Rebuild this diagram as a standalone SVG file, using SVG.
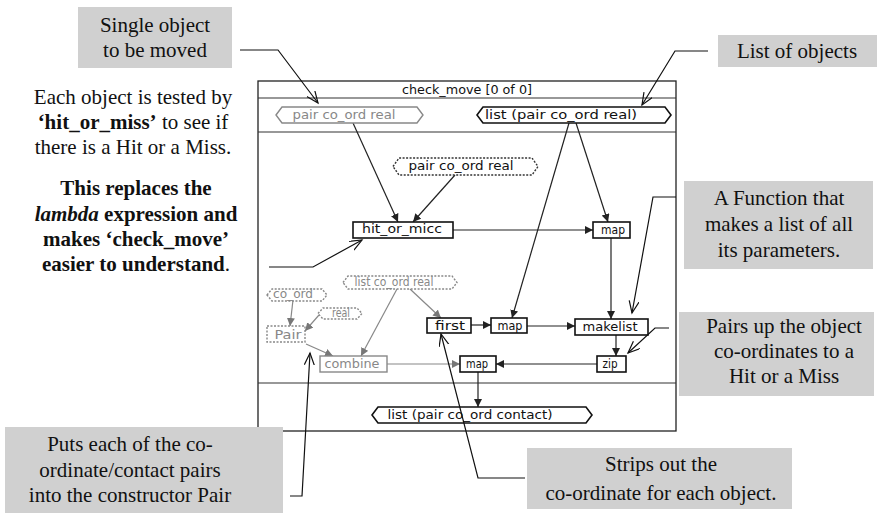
<svg xmlns="http://www.w3.org/2000/svg" width="884" height="513" viewBox="0 0 884 513">
<style>
.note{fill:#d0d0d0}
.nt{font-family:"Liberation Serif","Times New Roman",serif;font-size:21px;fill:#111;text-anchor:middle}
.b{font-weight:bold}
.frame{fill:#fff;stroke:#222;stroke-width:1.3}
.sep{stroke:#333;stroke-width:1.2}
.nb{fill:#fff;stroke:#111;stroke-width:1.6}
.ng{fill:#fff;stroke:#888;stroke-width:1.4}
.nd{fill:#fff;stroke:#333;stroke-width:1.4;stroke-dasharray:2 1.5}
.ngd{fill:#fff;stroke:#888;stroke-width:1.4;stroke-dasharray:2 1.5}
.lb{font-family:"DejaVu Sans",sans-serif;font-size:12.5px;fill:#111;text-anchor:middle}
.lg{font-family:"DejaVu Sans",sans-serif;font-size:12.5px;fill:#888;text-anchor:middle}
.c{stroke:#222;stroke-width:1.2;fill:none}
.cg{stroke:#888;stroke-width:1.2;fill:none}
.co{stroke:#111;stroke-width:1.2;fill:none}
</style>
<defs>
<marker id="arr" markerUnits="userSpaceOnUse" markerWidth="9" markerHeight="9" refX="8" refY="4" orient="auto"><path d="M0,0 L8,4 L0,8 z" fill="#222"/></marker>
<marker id="arrg" markerUnits="userSpaceOnUse" markerWidth="9" markerHeight="9" refX="8" refY="4" orient="auto"><path d="M0,0 L8,4 L0,8 z" fill="#777"/></marker>
<marker id="open" markerUnits="userSpaceOnUse" markerWidth="14" markerHeight="12" refX="12" refY="5" orient="auto"><path d="M0,0 L12,5 L0,10" fill="none" stroke="#111" stroke-width="1.2"/></marker>
</defs>

<g id="frame">
<rect class="frame" x="258" y="81" width="418" height="350"/>
<line class="sep" x1="258" y1="98" x2="676" y2="98"/>
<line class="sep" x1="258" y1="132" x2="676" y2="132"/>
<line class="sep" x1="258" y1="383" x2="676" y2="383"/>
<text class="lb" x="467" y="94" textLength="130" lengthAdjust="spacingAndGlyphs">check_move [0 of 0]</text>
</g>

<g id="connectors">
<line class="c" x1="353" y1="123" x2="398" y2="222" marker-end="url(#arr)"/>
<line class="c" x1="455" y1="175" x2="413" y2="222" marker-end="url(#arr)"/>
<line class="c" x1="569" y1="123" x2="512" y2="318" marker-end="url(#arr)"/>
<line class="c" x1="576" y1="123" x2="608" y2="222" marker-end="url(#arr)"/>
<line class="c" x1="453" y1="230" x2="593" y2="230" marker-end="url(#arr)"/>
<line class="c" x1="611" y1="238" x2="611" y2="319" marker-end="url(#arr)"/>
<line class="cg" x1="293" y1="300" x2="290" y2="326" marker-end="url(#arrg)"/>
<line class="cg" x1="319" y1="315" x2="305" y2="331" marker-end="url(#arrg)"/>
<line class="cg" x1="306" y1="344" x2="333" y2="356" marker-end="url(#arrg)"/>
<line class="cg" x1="397" y1="289" x2="361" y2="356" marker-end="url(#arrg)"/>
<line class="cg" x1="410" y1="289" x2="441" y2="318" marker-end="url(#arrg)"/>
<line class="c" x1="471" y1="325" x2="491" y2="325" marker-end="url(#arr)"/>
<line class="c" x1="527" y1="326" x2="575" y2="326" marker-end="url(#arr)"/>
<line class="c" x1="616" y1="335" x2="616" y2="356" marker-end="url(#arr)"/>
<line class="c" x1="597" y1="364" x2="496" y2="364" marker-end="url(#arr)"/>
<line class="cg" x1="387" y1="364" x2="460" y2="364" marker-end="url(#arrg)"/>
<line class="c" x1="478" y1="372" x2="478" y2="407" marker-end="url(#arr)"/>
</g>

<g id="in-pair">
<path class="ng" d="M276,115 L282,107 L417,107 L423,115 L417,123 L282,123 z"/>
<text class="lg" x="344" y="118.5" textLength="103" lengthAdjust="spacingAndGlyphs">pair co_ord real</text>
</g>
<g id="in-list">
<path class="nb" stroke-width="2" d="M477,115 L483,107 L665,107 L671,115 L665,123 L483,123 z"/>
<text class="lb" x="561" y="118.5" textLength="152" lengthAdjust="spacingAndGlyphs">list (pair co_ord real)</text>
</g>
<g id="pair-dotted">
<path class="nd" d="M393,166.5 L399,158 L532,158 L538,166.5 L532,175 L399,175 z"/>
<text class="lb" x="461" y="170" textLength="105" lengthAdjust="spacingAndGlyphs">pair co_ord real</text>
</g>
<g id="hit">
<rect class="nb" stroke-width="2" x="353" y="222" width="100" height="16"/>
<text class="lb" x="402" y="233" textLength="80" lengthAdjust="spacingAndGlyphs">hit_or_micc</text>
</g>
<g id="map-top">
<rect class="nb" x="593" y="222" width="37" height="16"/>
<text class="lb" font-size="12" x="613" y="233.5" textLength="24" lengthAdjust="spacingAndGlyphs">map</text>
</g>
<g id="list-coord">
<path class="ngd" d="M343,282.5 L348,276 L452,276 L457,282.5 L452,289 L348,289 z"/>
<text class="lg" font-size="10.5" x="394" y="285.5" textLength="79" lengthAdjust="spacingAndGlyphs">list co_ord real</text>
</g>
<g id="coord">
<path class="ngd" d="M267,295 L272,289 L322,289 L327,295 L322,301 L272,301 z"/>
<text class="lg" font-size="10.5" x="293" y="297.5" textLength="40" lengthAdjust="spacingAndGlyphs">co_ord</text>
</g>
<g id="real">
<path class="ngd" d="M318,313.5 L323,308 L357,308 L362,313.5 L357,319 L323,319 z"/>
<text class="lg" font-size="10.5" x="341" y="317" textLength="18" lengthAdjust="spacingAndGlyphs">real</text>
</g>
<g id="pair">
<rect class="ngd" x="267" y="326" width="38" height="16"/>
<text class="lg" x="288" y="338.5" textLength="27" lengthAdjust="spacingAndGlyphs">Pair</text>
</g>
<g id="first">
<rect class="nb" x="427" y="318" width="44" height="15"/>
<text class="lb" x="450" y="330" textLength="30" lengthAdjust="spacingAndGlyphs">first</text>
</g>
<g id="map-mid">
<rect class="nb" x="491" y="318" width="36" height="15"/>
<text class="lb" x="510" y="329.5" textLength="25" lengthAdjust="spacingAndGlyphs">map</text>
</g>
<g id="makelist">
<rect class="nb" stroke-width="2" x="575" y="319" width="73" height="16"/>
<text class="lb" x="610" y="331" textLength="55" lengthAdjust="spacingAndGlyphs">makelist</text>
</g>
<g id="combine">
<rect class="ng" x="320" y="356" width="67" height="16"/>
<text class="lg" x="352" y="368" textLength="55" lengthAdjust="spacingAndGlyphs">combine</text>
</g>
<g id="map-bot">
<rect class="nb" x="460" y="356" width="36" height="16"/>
<text class="lb" x="477" y="367.5" textLength="22" lengthAdjust="spacingAndGlyphs">map</text>
</g>
<g id="zip">
<rect class="nb" x="597" y="356" width="29" height="16"/>
<text class="lb" x="610" y="368" textLength="15" lengthAdjust="spacingAndGlyphs">zip</text>
</g>
<g id="out-list">
<path class="nb" stroke-width="2" d="M372,415 L378,407 L586,407 L592,415 L586,423 L378,423 z"/>
<text class="lb" x="470" y="419" textLength="165" lengthAdjust="spacingAndGlyphs">list (pair co_ord contact)</text>
</g>

<g id="note-single">
<rect class="note" x="78" y="7" width="154" height="61"/>
<text class="nt" x="155" y="32">Single object</text>
<text class="nt" x="155" y="57">to be moved</text>
</g>
<g id="note-list">
<rect class="note" x="718" y="35" width="159" height="32"/>
<text class="nt" x="797" y="58">List of objects</text>
</g>
<g id="note-each">
<text class="nt" x="133" y="104">Each object is tested by</text>
<text class="nt" x="133" y="129"><tspan class="b">‘hit_or_miss’</tspan> to see if</text>
<text class="nt" x="133" y="154">there is a Hit or a Miss.</text>
<text class="nt b" x="136" y="195">This replaces the</text>
<text class="nt b" x="136" y="220.5"><tspan font-style="italic">lambda</tspan> expression and</text>
<text class="nt b" x="136" y="246">makes ‘check_move’</text>
<text class="nt" x="136" y="271"><tspan class="b">easier to understand</tspan>.</text>
</g>
<g id="note-func">
<rect class="note" x="684" y="181" width="189" height="88"/>
<text class="nt" x="779" y="205">A Function that</text>
<text class="nt" x="779" y="231">makes a list of all</text>
<text class="nt" x="779" y="257">its parameters.</text>
</g>
<g id="note-pairs">
<rect class="note" x="679" y="312" width="195" height="84"/>
<text class="nt" x="784" y="333">Pairs up the object</text>
<text class="nt" x="784" y="358">co-ordinates to a</text>
<text class="nt" x="784" y="383">Hit or a Miss</text>
</g>
<g id="note-strips">
<rect class="note" x="527" y="448" width="265" height="61"/>
<text class="nt" x="661" y="471">Strips out the</text>
<text class="nt" x="661" y="500">co-ordinate for each object.</text>
</g>
<g id="note-puts">
<rect class="note" x="5" y="427" width="278" height="86"/>
<text class="nt" x="130" y="451">Puts each of the co-</text>
<text class="nt" x="130" y="477">ordinate/contact pairs</text>
<text class="nt" x="130" y="502">into the constructor Pair</text>
</g>

<g id="callouts">
<polyline class="co" points="240,50 278,50 318,103" marker-end="url(#open)"/>
<polyline class="co" points="708,51 675,51 642,105" marker-end="url(#open)"/>
<polyline class="co" points="676,197 653,197 632,313" marker-end="url(#open)"/>
<polyline class="co" points="669,328 655,328 628,353" marker-end="url(#open)"/>
<polyline class="co" points="525,478 478,478 441,334" marker-end="url(#open)"/>
<polyline class="co" points="290,496 302,496 310,353" marker-end="url(#open)"/>
<polyline class="co" stroke-width="2" points="269,267 313,267 362,240" marker-end="url(#open)"/>
</g>
</svg>
